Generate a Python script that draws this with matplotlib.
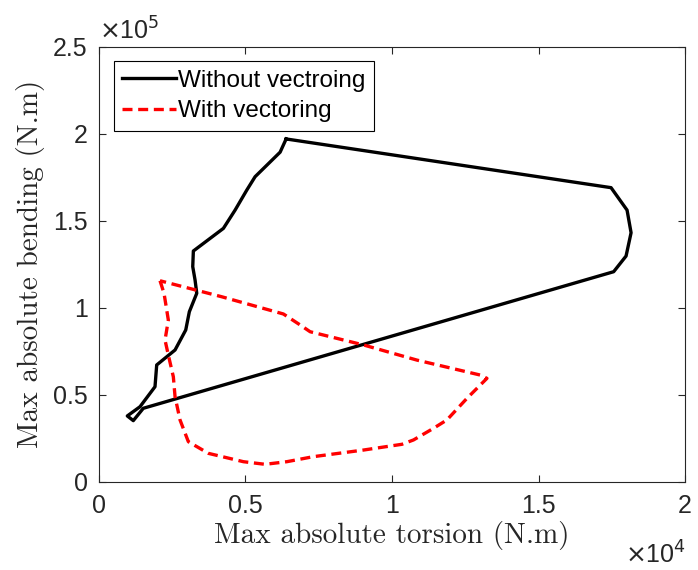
import numpy as np
import matplotlib
matplotlib.use('Agg')
import matplotlib.pyplot as plt
from matplotlib.ticker import FuncFormatter

# Kurva tanpa vectoring (torsi, bending) dalam N.m
torsi_tanpa = [6387, 6182, 5328, 5044, 4645, 4246, 3221, 3200, 3279, 3337, 3084,
               2961, 2596, 1970, 1912, 1400, 967, 1171, 1513,
               17565, 17988, 18159, 18022, 17476, 6387]
bending_tanpa = [197000, 189400, 175300, 167600, 156100, 145600, 132600, 123600, 115900, 108300, 97700,
                 87200, 75700, 67100, 54600, 43100, 37800, 35100, 42200,
                 120700, 129700, 143100, 156100, 169000, 197000]

# Kurva dengan vectoring
torsi_dengan = [2083, 2220, 2367, 2254, 2367, 2538, 2596, 2766, 3050, 3733, 4929, 5669,
                6410, 7319, 9027, 10338, 10734, 11417, 11874, 12557, 13240,
                13012, 10850, 9027, 7206, 6865, 6294, 4190, 2083]
bending_dengan = [115500, 108300, 92900, 81400, 72800, 60300, 48900, 35500, 23000, 16300, 11500, 10000,
                  11500, 14400, 18200, 21500, 24000, 30700, 35500, 47900, 59400,
                  61300, 69900, 78600, 86200, 90100, 96400, 106300, 115500]

xticks = [0, 5000, 10000, 15000, 20000]
yticks = [0, 50000, 100000, 150000, 200000, 250000]

plt.rcParams['font.family'] = 'Liberation Sans'
abu = (0.15, 0.15, 0.15)

fig = plt.figure(figsize=(6.98, 5.70), dpi=100)
ax = fig.add_axes([0.1418, 0.1549, 0.8396, 0.7631])

ax.plot(torsi_tanpa, bending_tanpa, color='black', lw=2.4, label='Without vectroing')
ax.plot(torsi_dengan, bending_dengan, color='red', lw=2.4, dashes=(3.0, 1.7), label='With vectoring')

ax.set_xlim(0, 20000)
ax.set_ylim(0, 250000)
ax.set_xticks(xticks)
ax.set_yticks(yticks)
ax.xaxis.set_major_formatter(FuncFormatter(lambda v, _: f'{v/1e4:g}'))
ax.yaxis.set_major_formatter(FuncFormatter(lambda v, _: f'{v/1e5:g}'))
ax.tick_params(direction='in', top=True, right=True, length=5, width=0.8,
               colors=abu, labelsize=18)
ax.tick_params(axis='x', pad=9)
ax.tick_params(axis='y', pad=8)
for s in ax.spines.values():
    s.set_color(abu)
    s.set_linewidth(0.8)

ax.set_xlabel('Max absolute torsion (N.m)', fontname='cmr10', fontsize=21, color=abu, labelpad=2)
ax.set_ylabel('Max absolute bending (N.m)', fontname='cmr10', fontsize=21, color=abu, labelpad=6)

fig.text(99 / 698, 1 - 40 / 570, r'$\times$10$^5$', fontsize=18, color=abu,
         ha='left', va='baseline')
fig.text(686 / 698, 1 - 564 / 570, r'$\times$10$^4$', fontsize=18, color=abu,
         ha='right', va='baseline')

leg = ax.legend(loc='upper left', fontsize=17.5, fancybox=False, edgecolor='black',
                framealpha=1, handlelength=2.2, handletextpad=0.1, borderpad=0.35,
                labelspacing=0.35, borderaxespad=0.6)
leg.get_frame().set_linewidth(0.8)

fig.savefig('out.png', dpi=100)
